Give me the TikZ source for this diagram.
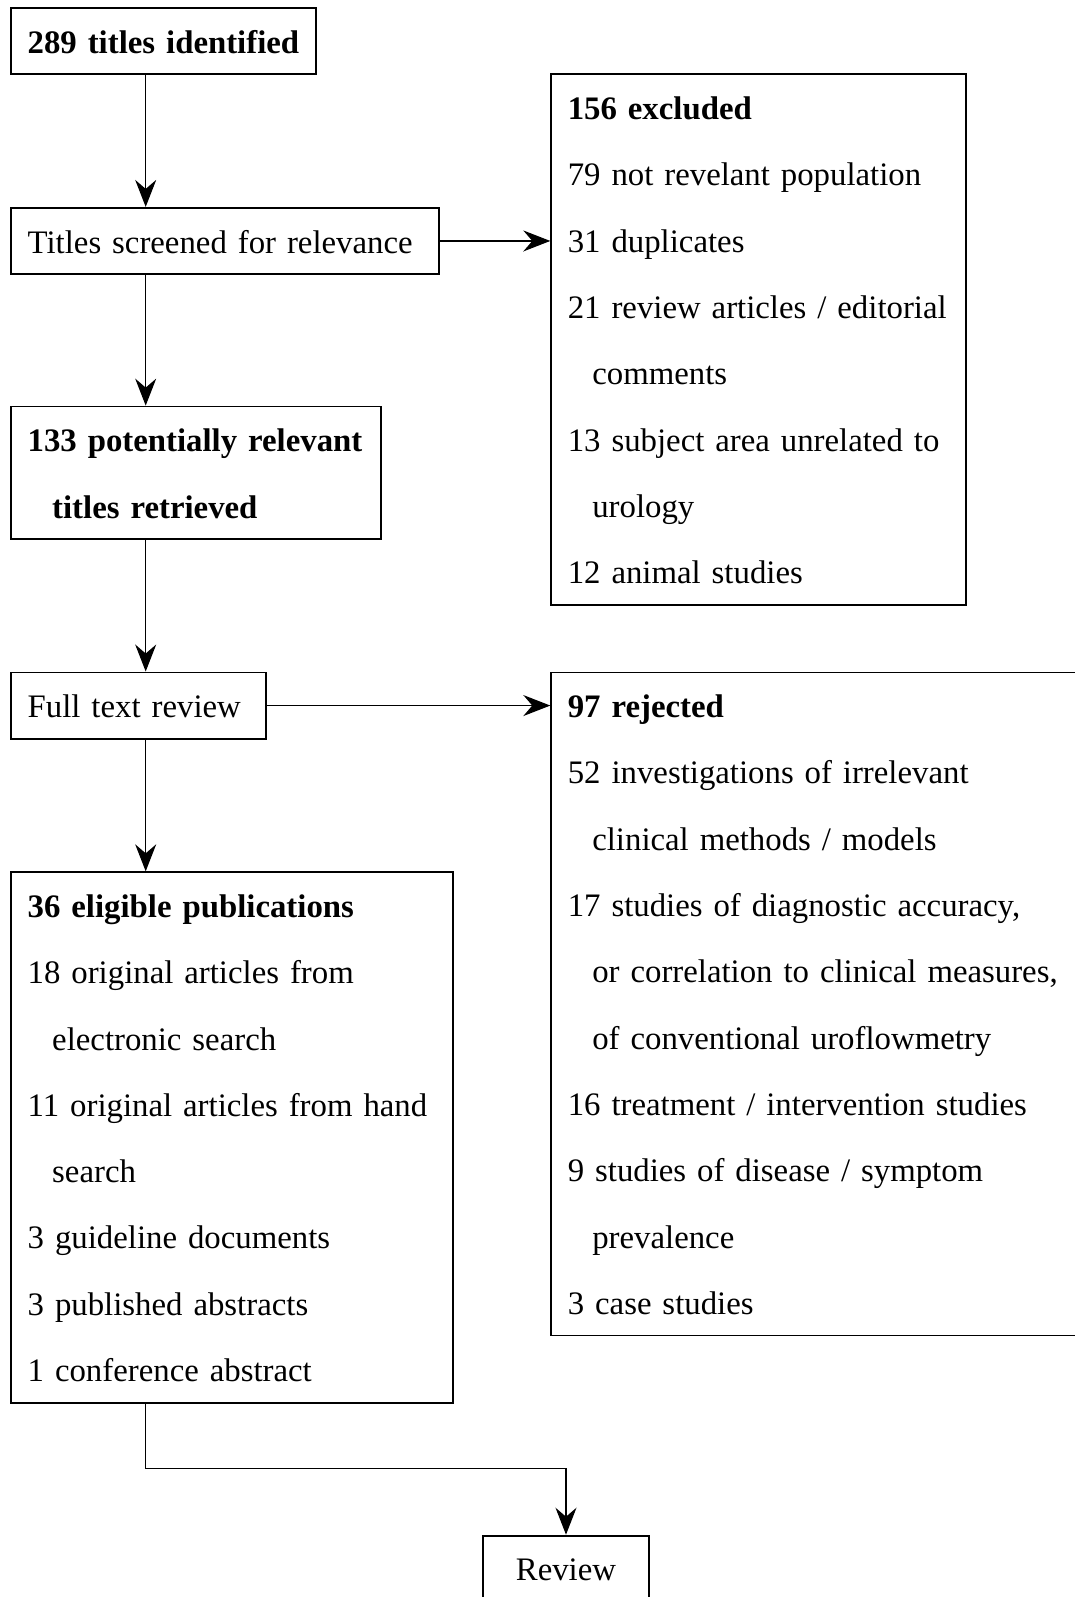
\documentclass[tikz,border=0pt]{standalone}
\usepackage{fontspec}
\setmainfont{Liberation Serif}
\usetikzlibrary{arrows.meta}
\newcommand{\rowstrut}{\rule[-10.55pt]{0pt}{33.15pt}}
\newcommand{\cont}{\hspace*{12.25pt}}
\begin{document}
\begin{tikzpicture}[x=0.5pt, y=-0.5pt,
  box/.style={draw, line width=0.9pt, anchor=north west, inner xsep=8.3pt, inner ysep=0pt,
    font=\fontsize{16.4}{33.15}\selectfont,
    execute at begin node={\rightskip=0pt plus 1fil minus 30pt\relax\parindent=0pt\rowstrut},
    execute at end node={\rowstrut}},
  link/.style={line width=0.6pt, -{Stealth[length=13.5pt, width=10.5pt, inset=4.5pt]}}]
\useasboundingbox (0,0) rectangle (1075,1597);
\path
(10.2,7.1) node [box, text width=135.8pt] (titles) {\textbf{289 titles identified}}
(10.2,206.9) node [box, text width=197.4pt] (screen) {Titles screened for relevance}
(10.2,405.6) node [box, text width=168.4pt] (potential) {\textbf{133 potentially relevant}\\\cont\textbf{titles retrieved}}
(10.2,671.5) node [box, text width=110.8pt] (fulltext) {Full text review}
(10.2,871.3) node [box, text width=204.5pt] (eligible) {\textbf{36 eligible publications}\\
  18 original articles from\\\cont electronic search\\
  11 original articles from hand\\\cont search\\
  3 guideline documents\\
  3 published abstracts\\
  1 conference abstract}
(550.3,73.4) node [box, text width=190.7pt] (excluded) {\textbf{156 excluded}\\
  79 not revelant population\\
  31 duplicates\\
  21 review articles / editorial\\\cont comments\\
  13 subject area unrelated to\\\cont urology\\
  12 animal studies}
(550.3,671.5) node [box, text width=248.2pt] (rejected) {\textbf{97 rejected}\\
  52 investigations of irrelevant\\\cont clinical methods / models\\
  17 studies of diagnostic accuracy,\\\cont or correlation to clinical measures,\\\cont of conventional uroflowmetry\\
  16 treatment / intervention studies\\
  9 studies of disease / symptom\\\cont prevalence\\
  3 case studies}
(566,1534.7) node [box, anchor=north, minimum width=83pt] (review) {Review};
\coordinate (spine) at (145.7,0);
\draw[link] (titles.south -| spine) -- (screen.north -| spine);
\draw[link] (screen.south -| spine) -- (potential.north -| spine);
\draw[link] (potential.south -| spine) -- (fulltext.north -| spine);
\draw[link] (fulltext.south -| spine) -- (eligible.north -| spine);
\draw[link] (screen.east) -- (screen.east -| excluded.west);
\draw[link] (fulltext.east) -- (fulltext.east -| rejected.west);
\draw[link] (eligible.south -| spine) -- ++(0,65) -| (review.north);
\end{tikzpicture}
\end{document}
